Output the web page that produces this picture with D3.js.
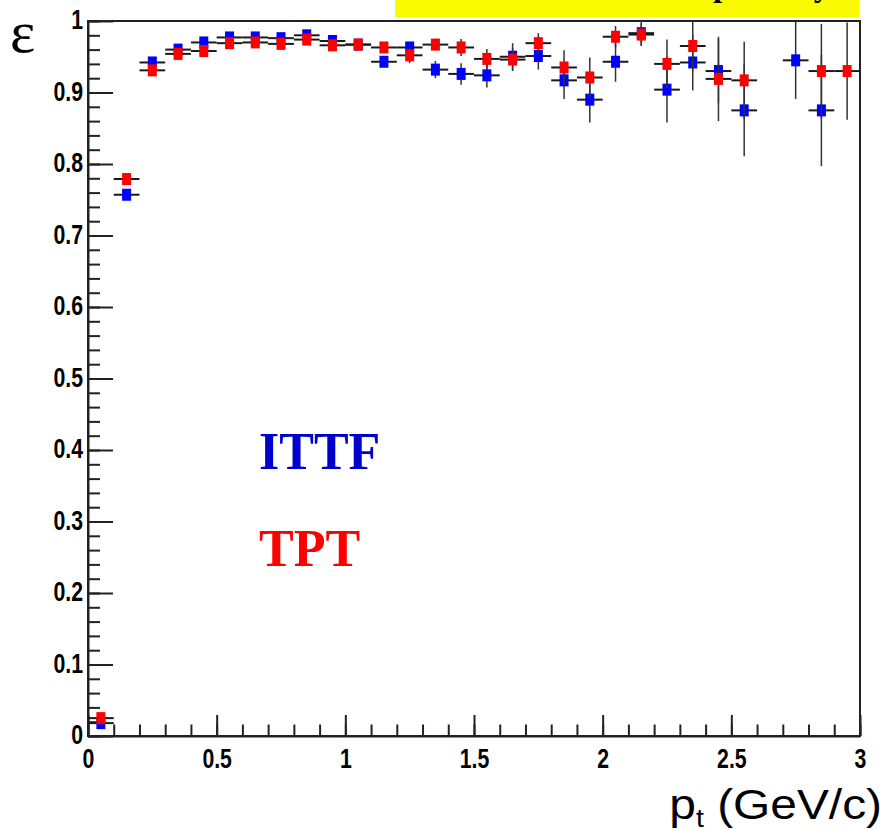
<!DOCTYPE html>
<html>
<head>
<meta charset="utf-8">
<script src="https://cdn.jsdelivr.net/npm/d3@7"></script>
<style>
  html, body { margin: 0; padding: 0; background: #fff; }
  svg { display: block; }
</style>
</head>
<body>
<svg id="chart" width="889" height="830"></svg>
<script>
// ---------------- data ----------------
const binCenters = [0.05,0.15,0.25,0.35,0.45,0.55,0.65,0.75,0.85,0.95,
                    1.05,1.15,1.25,1.35,1.45,1.55,1.65,1.75,1.85,1.95,
                    2.05,2.15,2.25,2.35,2.45,2.55,2.65,2.75,2.85,2.95];
const binHalfWidth = 0.05;

const ittfEff = [0.018,0.757,0.942,0.960,0.970,0.977,0.977,0.976,0.980,0.972,
                 0.967,0.943,0.963,0.932,0.926,0.924,0.950,0.951,0.917,0.890,
                 0.943,0.983,0.904,0.942,0.930,0.875,null,0.945,0.875,null];
const ittfErr = [0.002,0.003,0.003,0.003,0.003,0.003,0.003,0.003,0.003,0.004,
                 0.004,0.006,0.006,0.012,0.015,0.017,0.019,0.019,0.026,0.032,
                 0.028,0.018,0.046,0.039,0.045,0.064,null,0.054,0.078,null];

const tptEff  = [0.025,0.779,0.931,0.954,0.958,0.969,0.970,0.968,0.974,0.966,
                 0.967,0.963,0.952,0.967,0.963,0.947,0.946,0.969,0.935,0.921,
                 0.978,0.981,0.940,0.965,0.919,0.917,null,null,0.930,0.930];
const tptErr  = [0.002,0.003,0.003,0.003,0.003,0.003,0.003,0.003,0.003,0.004,
                 0.004,0.004,0.011,0.008,0.012,0.014,0.016,0.014,0.024,0.028,
                 0.015,0.015,0.034,0.034,0.059,0.054,null,null,0.066,0.068];

const seriesNames  = ["ITTF", "TPT"];
const seriesColors = ["#0000ff", "#ff0000"];
const legendColors = ["#0000cc", "#ff0000"];

const xTickValues = [0, 0.5, 1, 1.5, 2, 2.5, 3];
const xTickLabels = ["0", "0.5", "1", "1.5", "2", "2.5", "3"];
const xMinorValues = d3.range(0, 31).map(i => i / 10);
const yTickValues = [0,0.1,0.2,0.3,0.4,0.5,0.6,0.7,0.8,0.9,1];
const yTickLabels = ["0","0.1","0.2","0.3","0.4","0.5","0.6","0.7","0.8","0.9","1"];
const yMinorValues = d3.range(0, 51).map(i => i / 50);

const yTitle = "\u03b5";

// ---------------- layout ----------------
const svg = d3.select("#chart");
const L = 88, R = 860, T = 21, B = 736;
const x = d3.scaleLinear().domain([0, 3]).range([L, R]);
const y = d3.scaleLinear().domain([0, 1]).range([B, T]);
const axisColor = "#222";

// title pave (mostly cut off at the top)
svg.append("rect").attr("x", 395).attr("y", -10).attr("width", 464).attr("height", 27)
   .attr("fill", "#fbfb00");
svg.append("text").attr("x", 713).attr("y", -3.8)
   .attr("font-family", "'Liberation Serif', serif").attr("font-weight", "bold")
   .attr("font-size", 33).attr("text-anchor", "start").attr("fill", "#000")
   .text("primary");

// frame
svg.append("rect").attr("x", L).attr("y", T).attr("width", R - L).attr("height", B - T)
   .attr("fill", "none").attr("stroke", axisColor).attr("stroke-width", 2);

// clip for data
svg.append("clipPath").attr("id", "plotclip").append("rect")
   .attr("x", L).attr("y", T).attr("width", R - L).attr("height", B - T);

// minor axes
svg.append("g").attr("transform", `translate(0,${B})`)
   .call(d3.axisBottom(x).tickValues(xMinorValues).tickSize(-11.5).tickSizeOuter(0).tickFormat(""))
   .call(g => g.select(".domain").remove());
svg.append("g").attr("transform", `translate(${L},0)`)
   .call(d3.axisLeft(y).tickValues(yMinorValues).tickSize(-12).tickSizeOuter(0).tickFormat(""))
   .call(g => g.select(".domain").remove());

// major axes
const xAxisG = svg.append("g").attr("transform", `translate(0,${B})`)
   .call(d3.axisBottom(x).tickValues(xTickValues).tickSize(-21).tickSizeOuter(0)
         .tickFormat((d, i) => xTickLabels[i]));
const yAxisG = svg.append("g").attr("transform", `translate(${L},0)`)
   .call(d3.axisLeft(y).tickValues(yTickValues).tickSize(-25).tickSizeOuter(0)
         .tickFormat((d, i) => yTickLabels[i]));

svg.selectAll(".tick line").attr("stroke", axisColor).attr("stroke-width", 2);
[xAxisG, yAxisG].forEach(g => g.select(".domain").attr("stroke", axisColor).attr("stroke-width", 2));

xAxisG.selectAll("text")
   .attr("x", null).attr("y", null).attr("dy", null)
   .attr("transform", "translate(0,32) scale(0.76,1)")
   .attr("font-family", "'Liberation Sans', Arial, sans-serif")
   .attr("font-weight", "bold").attr("font-size", 28).attr("fill", "#000");
yAxisG.selectAll("text")
   .attr("x", null).attr("y", null).attr("dy", null)
   .attr("transform", "translate(-5,7.5) scale(0.76,1)")
   .attr("font-family", "'Liberation Sans', Arial, sans-serif")
   .attr("font-weight", "bold").attr("font-size", 28).attr("fill", "#000");

// ---------------- data marks ----------------
const series = [
  { name: seriesNames[0], eff: ittfEff, err: ittfErr, color: seriesColors[0] },
  { name: seriesNames[1], eff: tptEff,  err: tptErr,  color: seriesColors[1] }
];
const MW = 9, MH = 12;
const dataG = svg.append("g").attr("clip-path", "url(#plotclip)");

series.forEach(s => {
  const pts = binCenters.map((c, i) => ({ c, v: s.eff[i], e: s.err[i] }))
                        .filter(p => p.v !== null);
  const g = dataG.append("g");
  g.selectAll("line.h").data(pts).join("line").attr("class", "h")
    .attr("x1", p => x(p.c - binHalfWidth)).attr("x2", p => x(p.c + binHalfWidth))
    .attr("y1", p => y(p.v)).attr("y2", p => y(p.v))
    .attr("stroke", "#1a1a1a").attr("stroke-width", 2);
  g.selectAll("line.v").data(pts).join("line").attr("class", "v")
    .attr("x1", p => x(p.c)).attr("x2", p => x(p.c))
    .attr("y1", p => y(p.v + p.e)).attr("y2", p => y(p.v - p.e))
    .attr("stroke", "#333").attr("stroke-width", 1.5);
  g.selectAll("rect").data(pts).join("rect")
    .attr("x", p => x(p.c) - MW / 2).attr("y", p => y(p.v) - MH / 2)
    .attr("width", MW).attr("height", MH).attr("fill", s.color);
});

// ---------------- labels ----------------
svg.append("text").attr("x", 10).attr("y", 52)
   .attr("font-family", "'Liberation Serif', serif").attr("font-size", 60).attr("fill", "#000")
   .text(yTitle);

const xt = svg.append("text").attr("transform", "translate(882,819) scale(1.14,1)")
   .attr("text-anchor", "end")
   .attr("font-family", "'Liberation Sans', Arial, sans-serif").attr("font-size", 42).attr("fill", "#000");
xt.append("tspan").text("p");
xt.append("tspan").attr("font-size", 25).attr("dy", 8).text("t");
xt.append("tspan").attr("dy", -8).text("\u00a0(GeV/c)");

svg.append("text").attr("x", 259).attr("y", 469)
   .attr("font-family", "'Liberation Serif', serif").attr("font-weight", "bold")
   .attr("font-size", 52).attr("fill", legendColors[0]).text(seriesNames[0]);
svg.append("text").attr("x", 259).attr("y", 566)
   .attr("font-family", "'Liberation Serif', serif").attr("font-weight", "bold")
   .attr("font-size", 52).attr("fill", legendColors[1]).text(seriesNames[1]);
</script>
</body>
</html>
